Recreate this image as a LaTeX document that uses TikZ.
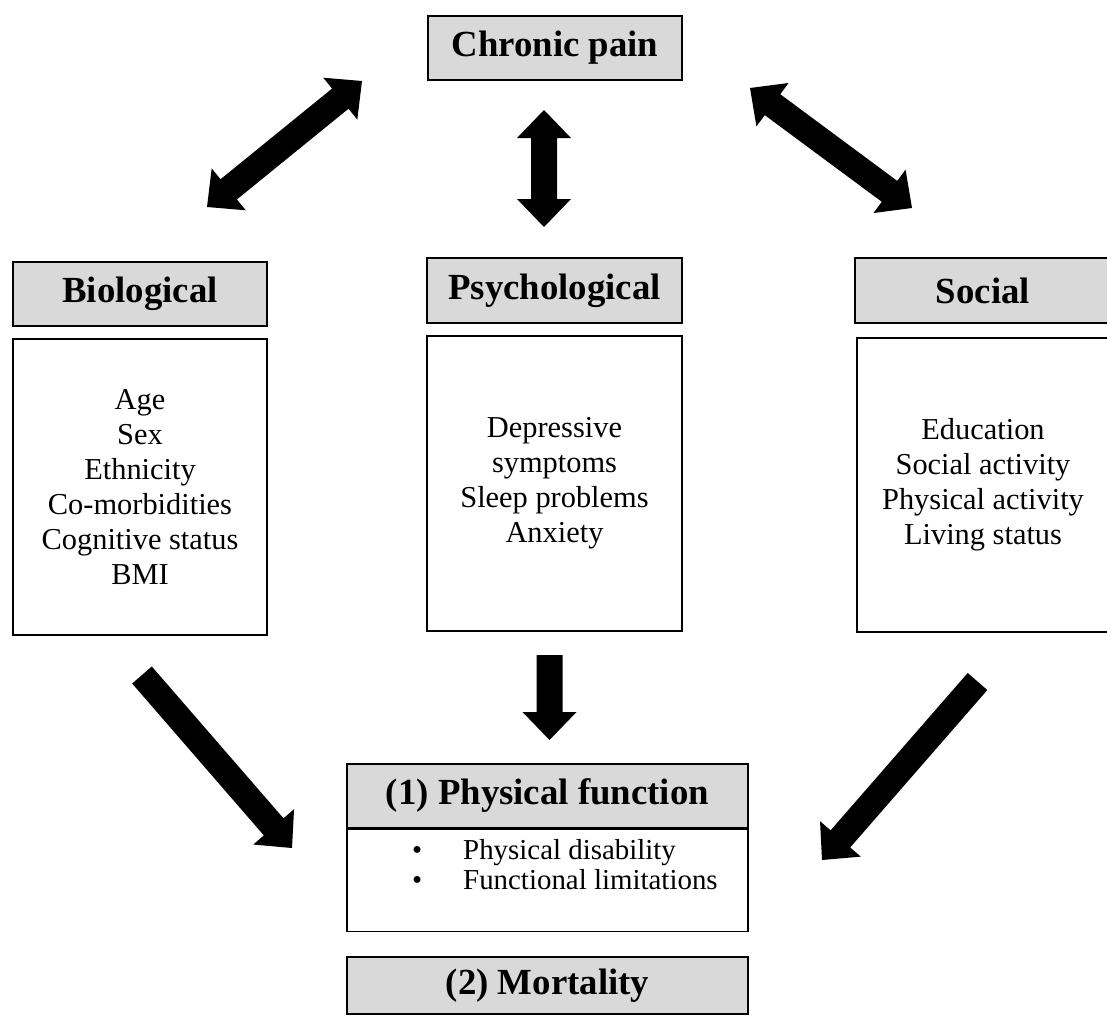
\documentclass[tikz,border=0pt]{standalone}
\usepackage{fontspec}
\setmainfont{Liberation Serif}
\usetikzlibrary{calc}
\definecolor{hdrgray}{HTML}{D9D9D9}
% single block arrow: tail, tip
\newcommand\blockarrow[2]{%
  \coordinate (tmpP) at ($(#2)!28pt!(#1)$);
  \fill[arrowfill] ($(#1)!13pt!90:(#2)$) -- ($(tmpP)!13pt!90:(#2)$) -- ($(tmpP)!27pt!90:(#2)$) -- (#2)
    -- ($(tmpP)!27pt!-90:(#2)$) -- ($(tmpP)!13pt!-90:(#2)$) -- ($(#1)!13pt!-90:(#2)$) -- cycle;}
% double block arrow: end1, end2
\newcommand\dblockarrow[2]{%
  \coordinate (tmpP) at ($(#2)!28pt!(#1)$);
  \coordinate (tmpQ) at ($(#1)!28pt!(#2)$);
  \fill[arrowfill] ($(tmpQ)!13pt!90:(#2)$) -- ($(tmpP)!13pt!90:(#2)$) -- ($(tmpP)!27pt!90:(#2)$) -- (#2)
    -- ($(tmpP)!27pt!-90:(#2)$) -- ($(tmpP)!13pt!-90:(#2)$) -- ($(tmpQ)!13pt!-90:(#2)$)
    -- ($(tmpQ)!27pt!-90:(#2)$) -- (#1) -- ($(tmpQ)!27pt!90:(#2)$) -- cycle;}
\begin{document}
\begin{tikzpicture}[x=1pt,y=-1pt,
  arrowfill/.style={fill=black},
  hdr/.style={draw=black, line width=1.6pt, fill=hdrgray, minimum width=#1, minimum height=64pt,
    inner sep=0pt, font=\fontsize{36.8}{40}\selectfont\bfseries},
  cbox/.style={draw=black, line width=1.6pt, fill=white, inner sep=0pt, align=center,
    font=\fontsize{30.4}{35}\selectfont},
  plainbox/.style={draw=black, line width=1.6pt, fill=white, inner sep=0pt},
  listtext/.style={inner sep=0pt, align=left, font=\fontsize{28.9}{30}\selectfont}]
\useasboundingbox (0,0) rectangle (1107,1017);
\clip (0,0) rectangle (1107,1017);
\fill[white] (0,0) rectangle (1107,1017);

\node[hdr=254pt] (pain) at (555,48) {Chronic pain};

\node[hdr=254pt] (bio) at (140,294) {Biological};
\node[cbox, minimum width=254pt, minimum height=296pt] (biobox) at (140,487)
  {Age\\Sex\\Ethnicity\\Co-morbidities\\Cognitive status\\BMI};

\node[hdr=255pt, minimum height=65pt] (psy) at (554.5,290.5) {Psychological};
\node[cbox, minimum width=255pt, minimum height=295pt] (psybox) at (554.5,483.5)
  {Depressive\\symptoms\\Sleep problems\\Anxiety};

\node[hdr=256pt, minimum height=65pt] (soc) at (983,290.5) {Social};
\node[cbox, minimum width=252pt, minimum height=294pt] (socbox) at (983,485)
  {Education\\Social activity\\Physical activity\\Living status};

\node[hdr=401pt] (pf) at (547.5,796) {(1) Physical function};
\node[plainbox, minimum width=401pt, minimum height=102pt, anchor=north] (pfbox) at (pf.south) {};
\node[listtext, anchor=west] (pflist) at (412,865)
  {\makebox[51pt][l]{•}Physical disability\\\makebox[51pt][l]{•}Functional limitations};

\node[hdr=401pt, minimum height=57pt] (mort) at (547.5,985.5) {(2) Mortality};

% arrow end points
\coordinate (painL) at (362,81);
\coordinate (bioT) at (207,207);
\coordinate (painB) at (544,110);
\coordinate (psyT) at (544,227);
\coordinate (painR) at (750,88);
\coordinate (socT) at (912,208);
\coordinate (bioB) at (142,675);
\coordinate (pfL) at (292,848);
\coordinate (psyB) at (549.5,655);
\coordinate (pfT) at (549.5,740);
\coordinate (socB) at (977.5,681.5);
\coordinate (pfR) at (822,860);

\dblockarrow{bioT}{painL}
\dblockarrow{psyT}{painB}
\dblockarrow{socT}{painR}
\blockarrow{bioB}{pfL}
\blockarrow{psyB}{pfT}
\blockarrow{socB}{pfR}
\end{tikzpicture}
\end{document}
